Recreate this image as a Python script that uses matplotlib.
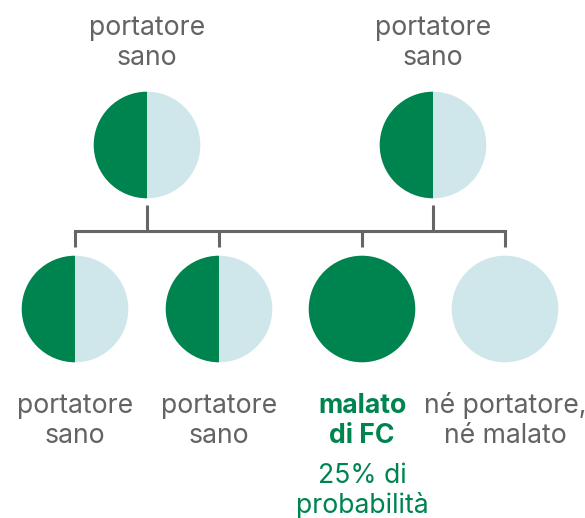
import matplotlib
matplotlib.use("Agg")
import matplotlib.pyplot as plt
from matplotlib.patches import Wedge

# Data
parent_labels = ["portatore\nsano", "portatore\nsano"]
parent_dark_share = [0.5, 0.5]
child_labels = ["portatore\nsano", "portatore\nsano", "malato\ndi FC", "né portatore,\nné malato"]
child_dark_share = [0.5, 0.5, 1.0, 0.0]
child_highlight = [False, False, True, False]
probability_note = "25% di\nprobabilità"

DARK = "#00844F"
LIGHT = "#CFE6EA"
GRAY = "#636363"
LINE = "#666666"
FS = 19.2
LEAD = 30

plt.rcParams['font.family'] = ['Inter', 'DejaVu Sans']

fig = plt.figure(figsize=(5.85, 5.18), dpi=100)
ax = fig.add_axes([0, 0, 1, 1])
ax.set_xlim(0, 585)
ax.set_ylim(518, 0)
ax.set_aspect('equal')
ax.axis('off')

R = 53.3
parent_x = [147, 433]
parent_y = 145
child_x = [75, 219, 362, 505]
child_y = 309


def draw_circle(cx, cy, share):
    if share >= 1.0:
        ax.add_patch(Wedge((cx, cy), R, 0, 360, facecolor=DARK, edgecolor='none'))
    elif share <= 0.0:
        ax.add_patch(Wedge((cx, cy), R, 0, 360, facecolor=LIGHT, edgecolor='none'))
    else:
        ang = 360 * share
        ax.add_patch(Wedge((cx, cy), R, 90, 90 + ang, facecolor=DARK, edgecolor='none'))
        ax.add_patch(Wedge((cx, cy), R, 90 + ang, 450, facecolor=LIGHT, edgecolor='none'))


def draw_label(x, baseline, text, color, weight='normal'):
    for i, line in enumerate(text.split("\n")):
        ax.text(x, baseline + i * LEAD, line, ha='center', va='baseline',
                fontsize=FS, color=color, fontweight=weight)


for x, s, lab in zip(parent_x, parent_dark_share, parent_labels):
    draw_circle(x, parent_y, s)
    draw_label(x, 35, lab, GRAY)
    ax.plot([x, x], [205, 231], color=LINE, lw=2.2, solid_capstyle='butt')

ax.plot([child_x[0], child_x[-1]], [231, 231], color=LINE, lw=2.2, solid_capstyle='projecting')
for x, s, lab, hl in zip(child_x, child_dark_share, child_labels, child_highlight):
    ax.plot([x, x], [231, 247], color=LINE, lw=2.2, solid_capstyle='butt')
    draw_circle(x, child_y, s)
    draw_label(x, 413, lab, DARK if hl else GRAY, 'bold' if hl else 'normal')
    if hl:
        draw_label(x, 483, probability_note, DARK)

fig.savefig("out.png", dpi=100)
